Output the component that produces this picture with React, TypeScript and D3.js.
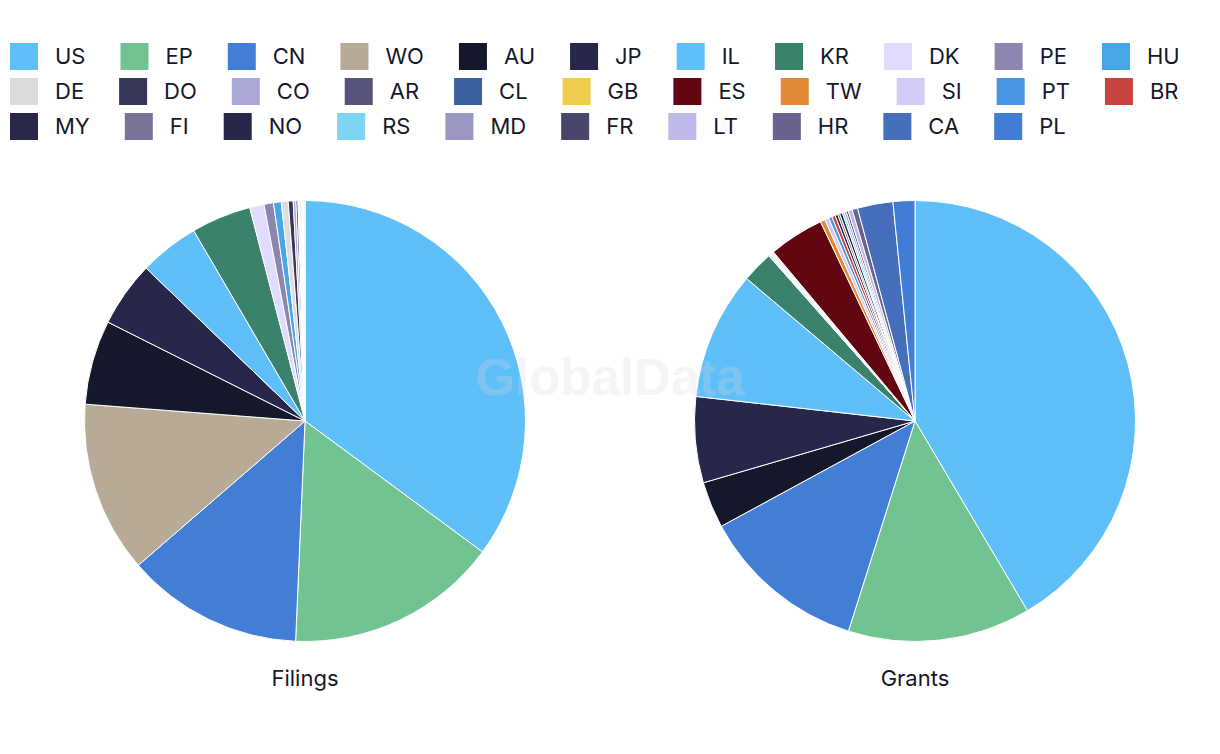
import React, { useEffect, useRef } from "react";
import * as d3 from "d3";

const categories = ["US","EP","CN","WO","AU","JP","IL","KR","DK","PE","HU","DE","DO","CO","AR","CL","GB","ES","TW","SI","PT","BR","MY","FI","NO","RS","MD","FR","LT","HR","CA","PL"];
const colors = ["#5fbff9","#72c392","#427ed6","#b7aa97","#15172b","#26274a","#5fbff9","#3a826b","#e0dcff","#8b87b0","#46a6e6","#dcdcdc","#36355a","#aaa8d6","#57547c","#3b5f9f","#f0cd4d","#620612","#e08a36","#d2cbf8","#4a95e0","#c8443e","#27284a","#777399","#26274a","#7cd5f3","#9a97c4","#49466e","#bdb9e8","#67638e","#456ebb","#417dd6"];
const filings = [35.2,15.6,13.0,12.6,6.2,4.8,4.4,4.4,1.05,0.7,0.57,0.5,0.36,0.2,0.15,0.05,0.02,0.05,0.02,0.1,0.02,0.05,0.02,0.02,0.02,0.02,0.02,0.02,0.02,0.02,0.02,0.02];
const grants = [41.5,13.4,12.2,0,3.4,6.3,9.4,2.3,0.1,0.05,0.05,0.1,0.05,0.02,0.02,0.02,0.02,4.05,0.35,0.3,0.25,0.25,0.2,0.15,0.2,0.15,0.15,0.15,0.3,0.4,2.6,1.6];
const pieTitles = ["Filings","Grants"];

const W = 1220, H = 754;
const FONT = "Inter, 'Noto Sans', sans-serif";

export default function App() {
  const ref = useRef<SVGSVGElement>(null);
  useEffect(() => {
    const svg = d3.select(ref.current);
    svg.selectAll("*").remove();

    // legend (flow layout)
    const lg = svg.append("g");
    let x = 10, y = 43;
    const rowH = 35, sw = 28, sh = 27, gapText = 17, gapItem = 35;
    categories.forEach((c, i) => {
      const t = lg.append("text").attr("font-family", FONT).attr("font-size", 22).attr("fill", "#15172b").text(c);
      const tw = (t.node() as SVGTextElement).getComputedTextLength();
      const itemW = sw + gapText + tw;
      if (x + itemW > W - 10) { x = 10; y += rowH; }
      lg.append("rect").attr("x", x).attr("y", y).attr("width", sw).attr("height", sh).attr("fill", colors[i]);
      t.attr("x", x + sw + gapText).attr("y", y + sh / 2).attr("dy", "0.36em");
      x += itemW + gapItem;
    });

    const r = 220.5;
    const centers = [305, 915];
    const cy = 421;
    const datasets = [filings, grants];
    const pie = d3.pie<number>().sort(null).value((d) => d);
    const arc = d3.arc<d3.PieArcDatum<number>>().innerRadius(0).outerRadius(r);
    datasets.forEach((data, k) => {
      const g = svg.append("g").attr("transform", `translate(${centers[k]},${cy})`);
      g.selectAll("path")
        .data(pie(data).filter((d) => d.value > 0))
        .join("path")
        .attr("d", arc as any)
        .attr("fill", (d) => colors[d.index])
        .attr("stroke", "#ffffff")
        .attr("stroke-width", 1);
      svg.append("text")
        .attr("x", centers[k]).attr("y", 686)
        .attr("text-anchor", "middle")
        .attr("font-family", FONT).attr("font-size", 22).attr("fill", "#15172b")
        .text(pieTitles[k]);
    });

    svg.append("text")
      .attr("x", W / 2).attr("y", 395)
      .attr("text-anchor", "middle")
      .attr("font-family", "'Liberation Sans', Arial, sans-serif")
      .attr("font-weight", "bold").attr("font-size", 51)
      .attr("fill", "#d9d9d9").attr("opacity", 0.25)
      .text("GlobalData");
  }, []);
  return (
    <div style={{ position: "absolute", left: 0, top: 0 }}>
      <svg ref={ref} width={W} height={H} style={{ display: "block", background: "#fff" }} />
    </div>
  );
}
